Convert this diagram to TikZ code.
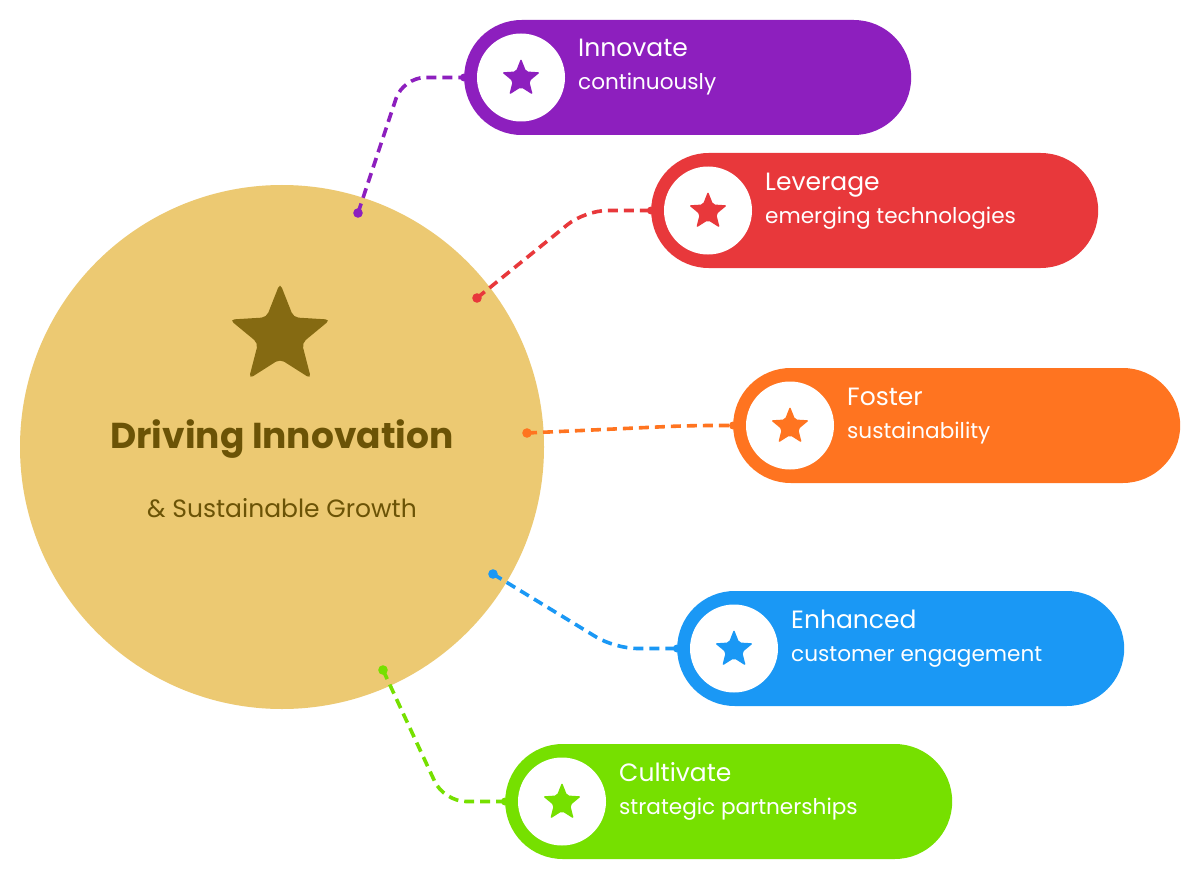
\documentclass[tikz,border=0pt]{standalone}
\usepackage{fontspec}
\setmainfont{Poppins}
\usetikzlibrary{shapes.geometric,calc}
\definecolor{cpurple}{HTML}{8D1FBE}
\definecolor{cred}{HTML}{E8383B}
\definecolor{corange}{HTML}{FF7420}
\definecolor{cblue}{HTML}{1A98F5}
\definecolor{cgreen}{HTML}{76E000}
\definecolor{cgold}{HTML}{ECC972}
\definecolor{cstar}{HTML}{856A12}
\definecolor{ctext}{HTML}{6B5306}
\tikzset{
  pillbox/.style={draw=none, minimum width=447pt, minimum height=115pt, rounded corners=57.5pt, inner sep=0pt},
  whitedot/.style={circle, fill=white, minimum size=88pt, inner sep=0pt},
  starshape/.style={star, star points=5, star point ratio=2.3, inner sep=0pt, rounded corners=2pt, draw=none},
  conn/.style={line width=3.6pt, dash pattern=on 10pt off 6pt, rounded corners=22pt},
  ttl/.style={text=white, font=\fontsize{25}{28}\selectfont, anchor=base west, inner sep=0pt},
  sub/.style={text=white, font=\fontsize{21.6}{24}\selectfont, anchor=base west, inner sep=0pt},
}
\newcommand\mkpill[6]{%
  \node[pillbox, fill=#2, anchor=west] (#1) at (#3,#4) {};
  \node[whitedot] (#1c) at (#3+57,#4) {};
  \node[starshape, fill=#2, minimum size=40pt] (#1s) at (#3+57,#4+1) {};
  \node[ttl] (#1t) at (#3+114,#4-20.5) {#5};
  \node[sub] (#1u) at (#3+114,#4+12.5) {#6};
}
\begin{document}
\begin{tikzpicture}[x=1pt,y=-1pt]
\useasboundingbox (0,0) rectangle (1200,880);
\fill[white] (0,0) rectangle (1200,880);
% central circle
\node[circle, fill=cgold, minimum size=524pt, inner sep=0pt] (hub) at (282,447) {};
\node[starshape, fill=cstar, minimum size=106pt, rounded corners=5pt] (hubstar) at (280,336) {};
\node[text=ctext, font=\fontsize{36}{40}\selectfont\bfseries, anchor=base, inner sep=0pt] (hubt) at (282,448) {Driving Innovation};
\node[text=ctext, font=\fontsize{25}{28}\selectfont, anchor=base, inner sep=0pt] (hubu) at (282,517) {\& Sustainable Growth};
% pills
\mkpill{p1}{cpurple}{464}{77.5}{Innovate}{continuously}
\mkpill{p2}{cred}{651}{210.5}{Leverage}{emerging technologies}
\mkpill{p3}{corange}{733}{425.5}{Foster}{sustainability}
\mkpill{p4}{cblue}{677}{648.5}{Enhanced}{customer engagement}
\mkpill{p5}{cgreen}{505}{801.5}{Cultivate}{strategic partnerships}
% connector ends
\coordinate (d1) at (358,213);
\coordinate (d2) at (477,298);
\coordinate (d3) at (527,433);
\coordinate (d4) at (493,574);
\coordinate (d5) at (383,670);
\coordinate (k1) at (403,77.5);
\coordinate (k2) at (585,210.5);
\coordinate (k3) at (690,425.5);
\coordinate (k4) at (615,648.5);
\coordinate (k5) at (444,801.5);
\draw[conn, cpurple] (d1) -- (k1) -- (p1.west);
\draw[conn, cred] (d2) -- (k2) -- (p2.west);
\draw[conn, corange] (d3) -- (k3) -- (p3.west);
\draw[conn, cblue] (d4) -- (k4) -- (p4.west);
\draw[conn, cgreen] (d5) -- (k5) -- (p5.west);
\foreach \d/\c in {d1/cpurple,d2/cred,d3/corange,d4/cblue,d5/cgreen}{\fill[\c] (\d) circle (4.8pt);}
\foreach \p/\c in {p1/cpurple,p2/cred,p3/corange,p4/cblue,p5/cgreen}{\fill[\c] (\p.west) circle (4pt);}
\end{tikzpicture}
\end{document}
